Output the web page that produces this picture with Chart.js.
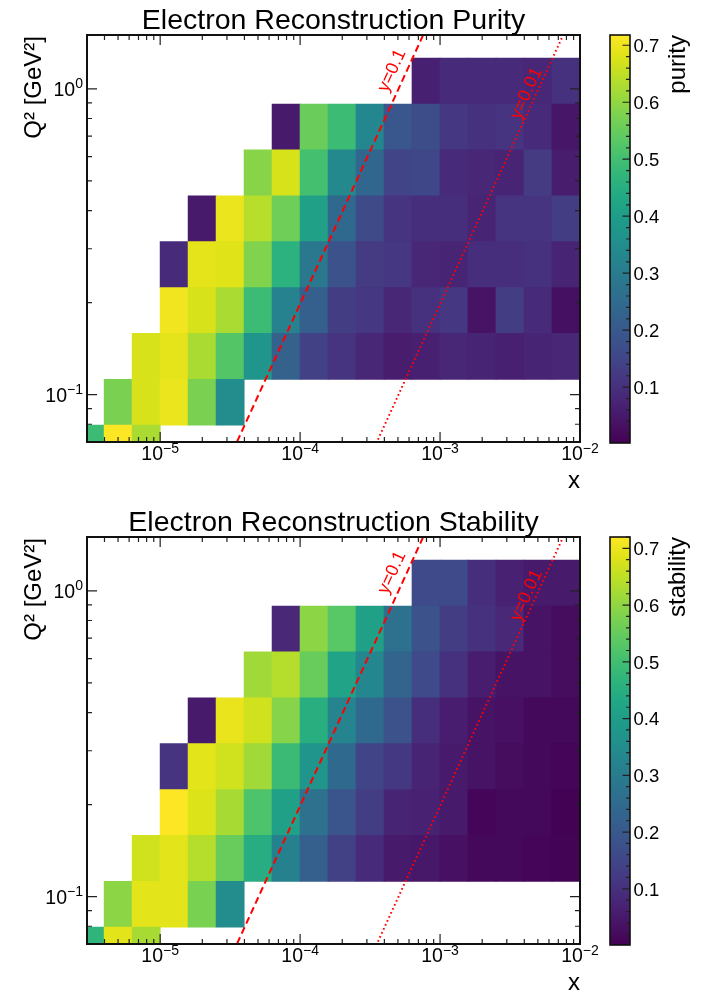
<!DOCTYPE html>
<html>
<head>
<meta charset="utf-8">
<title>Electron reconstruction purity and stability</title>
<script src="https://cdn.jsdelivr.net/npm/chart.js@4.4.1/dist/chart.umd.min.js"></script>
<style>
  html, body { margin: 0; padding: 0; background: #ffffff; }
  #page { position: relative; width: 710px; height: 992px; overflow: hidden; }
  #page canvas { position: absolute; }
</style>
</head>
<body>
<div id="page">
  <canvas id="purityMap" width="605" height="496" style="left:0px;top:0px"></canvas>
  <canvas id="purityBar" width="110" height="496" style="left:600px;top:0px"></canvas>
  <canvas id="stabilityMap" width="605" height="496" style="left:0px;top:502px"></canvas>
  <canvas id="stabilityBar" width="110" height="496" style="left:600px;top:502px"></canvas>
</div>
<script>
// ---------- binning (log10 of bin edges) ----------
const logXEdges  = [-5.6, -5.4, -5.2, -5.0, -4.8, -4.6, -4.4, -4.2, -4.0, -3.8,
                    -3.6, -3.4, -3.2, -3.0, -2.8, -2.6, -2.4, -2.2, -2.0];
const logQ2Edges = [-1.25, -1.1, -0.95, -0.8, -0.65, -0.5, -0.35, -0.2, -0.05, 0.1];

// ---------- axis ranges and labelled ticks ----------
const xRange   = [3e-6, 1e-2];
const q2Range  = [0.07, 1.5];
const xMajorTicks  = [1e-5, 1e-4, 1e-3, 1e-2];
const q2MajorTicks = [0.1, 1];
const zMajorTicks  = [0.1, 0.2, 0.3, 0.4, 0.5, 0.6, 0.7];

// ---------- constant-inelasticity lines, Q^2 = y * s * x ----------
const beamEnergies = [18, 275];          // electron, proton [GeV]
const inelasticity = [0.1, 0.01];
const inelasticityLabels = ['y=0.1', 'y=0.01'];

// ---------- cell contents, rows from lowest Q^2 upward, columns in x ----------
const _ = null;
const purity = [
  [0.489, 0.718, 0.625, _, _, _, _, _, _, _, _, _, _, _, _, _, _, _],
  [_, 0.575, 0.675, 0.697, 0.575, 0.346, _, _, _, _, _, _, _, _, _, _, _, _],
  [_, _, 0.675, 0.689, 0.625, 0.525, 0.374, 0.224, 0.138, 0.109, 0.081, 0.059, 0.066, 0.081, 0.074, 0.066, 0.074, 0.081],
  [_, _, _, 0.704, 0.675, 0.625, 0.489, 0.317, 0.217, 0.131, 0.117, 0.081, 0.102, 0.117, 0.038, 0.131, 0.088, 0.031],
  [_, _, _, 0.088, 0.689, 0.682, 0.582, 0.460, 0.288, 0.181, 0.124, 0.117, 0.081, 0.074, 0.095, 0.095, 0.102, 0.074],
  [_, _, _, _, 0.052, 0.697, 0.639, 0.560, 0.410, 0.245, 0.160, 0.109, 0.095, 0.095, 0.074, 0.109, 0.109, 0.131],
  [_, _, _, _, _, _, 0.589, 0.675, 0.503, 0.339, 0.238, 0.145, 0.152, 0.088, 0.081, 0.074, 0.124, 0.059],
  [_, _, _, _, _, _, _, 0.052, 0.553, 0.489, 0.331, 0.195, 0.167, 0.117, 0.102, 0.109, 0.088, 0.045],
  [_, _, _, _, _, _, _, _, _, _, _, _, 0.066, 0.088, 0.088, 0.088, 0.081, 0.102]
];
const stability = [
  [0.467, 0.689, 0.625, _, _, _, _, _, _, _, _, _, _, _, _, _, _, _],
  [_, 0.596, 0.689, 0.689, 0.575, 0.346, _, _, _, _, _, _, _, _, _, _, _, _],
  [_, _, 0.668, 0.689, 0.639, 0.553, 0.446, 0.317, 0.217, 0.138, 0.088, 0.052, 0.045, 0.031, 0.016, 0.016, 0.009, 0.006],
  [_, _, _, 0.720, 0.682, 0.625, 0.517, 0.410, 0.267, 0.188, 0.131, 0.074, 0.066, 0.052, 0.009, 0.016, 0.016, 0.002],
  [_, _, _, 0.109, 0.689, 0.668, 0.618, 0.489, 0.374, 0.245, 0.145, 0.117, 0.074, 0.052, 0.038, 0.023, 0.016, 0.009],
  [_, _, _, _, 0.052, 0.697, 0.668, 0.589, 0.453, 0.324, 0.245, 0.181, 0.095, 0.059, 0.038, 0.031, 0.016, 0.016],
  [_, _, _, _, _, _, 0.618, 0.639, 0.553, 0.417, 0.331, 0.231, 0.160, 0.102, 0.059, 0.038, 0.038, 0.023],
  [_, _, _, _, _, _, _, 0.081, 0.596, 0.532, 0.410, 0.267, 0.181, 0.131, 0.102, 0.081, 0.038, 0.023],
  [_, _, _, _, _, _, _, _, _, _, _, _, 0.160, 0.160, 0.095, 0.066, 0.052, 0.052]
];
const purityZRange    = [0.002, 0.718];
const stabilityZRange = [0.001, 0.720];

// ---------- styling ----------
const FONT = '"Liberation Sans", Arial, Helvetica, sans-serif';
const VIRIDIS = ['#440154','#471365','#482475','#463480','#414487','#3b528b','#355f8d',
                 '#2f6c8e','#2a788e','#25848e','#21918c','#1e9c89','#22a884','#2fb47c',
                 '#44bf70','#5ec962','#7ad151','#9bd93c','#bddf26','#dfe318','#fde725'];
const lineStyles = [
  { width: 2.0, dash: [7, 4] },
  { width: 2.0, dash: [1.6, 2.8] }
];
// where along each line its label sits (Q^2) and how far it is pushed off the line [px]
const lineLabelPlacement = [
  { q2: 1.10, offset: 13.5 },
  { q2: 0.94, offset: 9.0 }
];

function hexToRgb(h) {
  return [parseInt(h.slice(1, 3), 16), parseInt(h.slice(3, 5), 16), parseInt(h.slice(5, 7), 16)];
}
const VIRIDIS_RGB = VIRIDIS.map(hexToRgb);
function viridis(t) {
  t = Math.max(0, Math.min(1, t));
  const f = t * (VIRIDIS_RGB.length - 1);
  const i = Math.min(VIRIDIS_RGB.length - 2, Math.floor(f));
  const u = f - i;
  const a = VIRIDIS_RGB[i], b = VIRIDIS_RGB[i + 1];
  const c = a.map((v, k) => Math.round(v + (b[k] - v) * u));
  return `rgb(${c[0]},${c[1]},${c[2]})`;
}

const sCM = 4 * beamEnergies[0] * beamEnergies[1];

// ---------- helpers for drawing text with a power-of-ten exponent ----------
function powerParts(v) {
  const e = Math.round(Math.log10(v));
  return { base: '10', sup: e < 0 ? '\u2212' + (-e) : String(e) };
}
function drawPower(ctx, v, x, y, align) {
  const { base, sup } = powerParts(v);
  const fb = `19.5px ${FONT}`, fs = `14px ${FONT}`;
  ctx.font = fb; const wb = ctx.measureText(base).width;
  ctx.font = fs; const ws = ctx.measureText(sup).width;
  const left = align === 'center' ? x - (wb + ws) / 2 : x - (wb + ws);
  ctx.textAlign = 'left';
  ctx.textBaseline = 'alphabetic';
  ctx.font = fb; ctx.fillText(base, left, y);
  ctx.font = fs; ctx.fillText(sup, left + wb, y - 7.5);
}
function logTicks(min, max) {
  const out = [];
  for (let e = Math.floor(Math.log10(min)) - 1; e <= Math.ceil(Math.log10(max)); e++) {
    for (let k = 1; k <= 9; k++) {
      const v = k * Math.pow(10, e);
      if (v >= min * 0.9999 && v <= max * 1.0001) out.push({ v, major: k === 1 });
    }
  }
  return out;
}

// ---------- frame, inward ticks, labels and titles of a map ----------
const mapDecor = {
  id: 'mapDecor',
  afterDatasetsDraw(chart, args, opts) {
    const { ctx, scales } = chart;
    const sx = scales.x, sy = scales.y;
    ctx.save();
    // red labels along the inelasticity lines
    ctx.fillStyle = '#ff0000';
    ctx.font = `18px ${FONT}`;
    inelasticity.forEach((yv, i) => {
      const pl = lineLabelPlacement[i];
      const p0x = sx.getPixelForValue(pl.q2 / (yv * sCM)), p0y = sy.getPixelForValue(pl.q2);
      const p1x = sx.getPixelForValue(2 * pl.q2 / (yv * sCM)), p1y = sy.getPixelForValue(2 * pl.q2);
      const ang = Math.atan2(p1y - p0y, p1x - p0x);
      const ux = Math.sin(ang), uy = -Math.cos(ang);
      ctx.save();
      ctx.translate(p0x + ux * pl.offset, p0y + uy * pl.offset);
      ctx.rotate(ang);
      ctx.textAlign = 'center';
      ctx.textBaseline = 'middle';
      ctx.fillText(inelasticityLabels[i], 0, 0);
      ctx.restore();
    });
    ctx.restore();
  },
  afterDraw(chart, args, opts) {
    const { ctx, chartArea: a, scales } = chart;
    const sx = scales.x, sy = scales.y;
    ctx.save();
    ctx.strokeStyle = '#222222';
    ctx.lineWidth = 1.2;
    ctx.beginPath();
    for (const t of logTicks(sx.min, sx.max)) {
      const px = sx.getPixelForValue(t.v), L = t.major ? 10 : 5;
      ctx.moveTo(px, a.bottom); ctx.lineTo(px, a.bottom - L);
      ctx.moveTo(px, a.top);    ctx.lineTo(px, a.top + L);
    }
    for (const t of logTicks(sy.min, sy.max)) {
      const py = sy.getPixelForValue(t.v), L = t.major ? 10 : 5;
      ctx.moveTo(a.left, py);  ctx.lineTo(a.left + L, py);
      ctx.moveTo(a.right, py); ctx.lineTo(a.right - L, py);
    }
    ctx.stroke();
    ctx.lineWidth = 2;
    ctx.strokeStyle = '#111111';
    ctx.strokeRect(a.left, a.top, a.right - a.left, a.bottom - a.top);

    ctx.fillStyle = '#000000';
    for (const v of xMajorTicks) drawPower(ctx, v, sx.getPixelForValue(v), a.bottom + 18, 'center');
    for (const v of q2MajorTicks) drawPower(ctx, v, a.left - 4, sy.getPixelForValue(v) + 7, 'right');

    ctx.textBaseline = 'alphabetic';
    ctx.font = `28.5px ${FONT}`;
    ctx.textAlign = 'center';
    ctx.fillText(opts.title, (a.left + a.right) / 2, a.top - 6);

    ctx.font = `24px ${FONT}`;
    ctx.textAlign = 'right';
    ctx.fillText('x', a.right, a.bottom + 46);

    ctx.save();
    ctx.translate(40.5, a.top + 1);
    ctx.rotate(-Math.PI / 2);
    ctx.textAlign = 'right';
    ctx.fillText('Q\u00b2 [GeV\u00b2]', 0, 0);
    ctx.restore();
    ctx.restore();
  }
};

// ---------- frame, ticks and labels of a colour bar ----------
const colorAxis = {
  id: 'colorAxis',
  afterDraw(chart, args, opts) {
    const { ctx, chartArea: a, scales } = chart;
    const sy = scales.y;
    ctx.save();
    ctx.strokeStyle = '#222222';
    ctx.lineWidth = 1.2;
    ctx.beginPath();
    for (let k = 1; k * 0.02 <= sy.max + 1e-9; k++) {
      const v = k * 0.02;
      if (v < sy.min) continue;
      const py = sy.getPixelForValue(v), L = k % 5 === 0 ? 7.5 : 4;
      ctx.moveTo(a.right, py); ctx.lineTo(a.right - L, py);
    }
    ctx.stroke();
    ctx.lineWidth = 1.6;
    ctx.strokeStyle = '#111111';
    ctx.strokeRect(a.left, a.top, a.right - a.left, a.bottom - a.top);

    ctx.fillStyle = '#000000';
    ctx.font = `18.5px ${FONT}`;
    ctx.textAlign = 'left';
    ctx.textBaseline = 'alphabetic';
    for (const v of zMajorTicks) ctx.fillText(v.toFixed(1), a.right + 3.5, sy.getPixelForValue(v) + 6.7);

    ctx.save();
    ctx.font = `24px ${FONT}`;
    ctx.translate(85, a.top);
    ctx.rotate(-Math.PI / 2);
    ctx.textAlign = 'right';
    ctx.fillText(opts.label, 0, 0);
    ctx.restore();
    ctx.restore();
  }
};

function cellDatasets(grid, zRange) {
  return grid.map((row, r) => ({
    type: 'bar',
    xAxisID: 'xb',
    yAxisID: 'y',
    order: 2,
    grouped: false,
    data: row.map((v, c) => v === null ? null : {
      x: (logXEdges[c] + logXEdges[c + 1]) / 2,
      y: [Math.pow(10, logQ2Edges[r]), Math.pow(10, logQ2Edges[r + 1])],
      v
    }).filter(d => d !== null),
    backgroundColor: ctx => ctx.raw ? viridis((ctx.raw.v - zRange[0]) / (zRange[1] - zRange[0])) : 'rgba(0,0,0,0)',
    borderWidth: 0,
    barPercentage: 1,
    categoryPercentage: 1,
    inflateAmount: 0.4
  }));
}

function lineDatasets() {
  return inelasticity.map((yv, i) => ({
    type: 'line',
    xAxisID: 'x',
    yAxisID: 'y',
    order: 0,
    data: [q2Range[0] * 0.8, q2Range[1] * 1.25].map(q => ({ x: q / (yv * sCM), y: q })),
    borderColor: '#ff0000',
    borderWidth: lineStyles[i].width,
    borderDash: lineStyles[i].dash,
    pointRadius: 0,
    fill: false,
    tension: 0
  }));
}

function makeMap(id, grid, zRange, title) {
  return new Chart(document.getElementById(id), {
    type: 'bar',
    data: { datasets: [...cellDatasets(grid, zRange), ...lineDatasets()] },
    options: {
      responsive: false,
      animation: false,
      events: [],
      layout: { padding: { left: 87, top: 35, right: 25, bottom: 54 } },
      scales: {
        x:  { type: 'logarithmic', min: xRange[0], max: xRange[1], offset: false, display: false },
        xb: { type: 'linear', axis: 'x', min: Math.log10(xRange[0]), max: Math.log10(xRange[1]), offset: false, display: false },
        y:  { type: 'logarithmic', min: q2Range[0], max: q2Range[1], display: false }
      },
      plugins: {
        legend: { display: false },
        tooltip: { enabled: false },
        mapDecor: { title }
      }
    },
    plugins: [mapDecor]
  });
}

function makeColorBar(id, zRange, label) {
  return new Chart(document.getElementById(id), {
    type: 'bar',
    data: {
      labels: [label],
      datasets: [{
        data: [zRange],
        borderWidth: 0,
        barPercentage: 1,
        categoryPercentage: 1,
        backgroundColor: ctx => {
          const a = ctx.chart.chartArea;
          if (!a) return 'rgba(0,0,0,0)';
          const g = ctx.chart.ctx.createLinearGradient(0, a.bottom, 0, a.top);
          VIRIDIS.forEach((c, i) => g.addColorStop(i / (VIRIDIS.length - 1), c));
          return g;
        }
      }]
    },
    options: {
      responsive: false,
      animation: false,
      events: [],
      layout: { padding: { left: 10, right: 80, top: 35, bottom: 53 } },
      scales: {
        x: { display: false },
        y: { type: 'linear', min: zRange[0], max: zRange[1], display: false }
      },
      plugins: {
        legend: { display: false },
        tooltip: { enabled: false },
        colorAxis: { label }
      }
    },
    plugins: [colorAxis]
  });
}

makeMap('purityMap', purity, purityZRange, 'Electron Reconstruction Purity');
makeColorBar('purityBar', purityZRange, 'purity');
makeMap('stabilityMap', stability, stabilityZRange, 'Electron Reconstruction Stability');
makeColorBar('stabilityBar', stabilityZRange, 'stability');
</script>
</body>
</html>
